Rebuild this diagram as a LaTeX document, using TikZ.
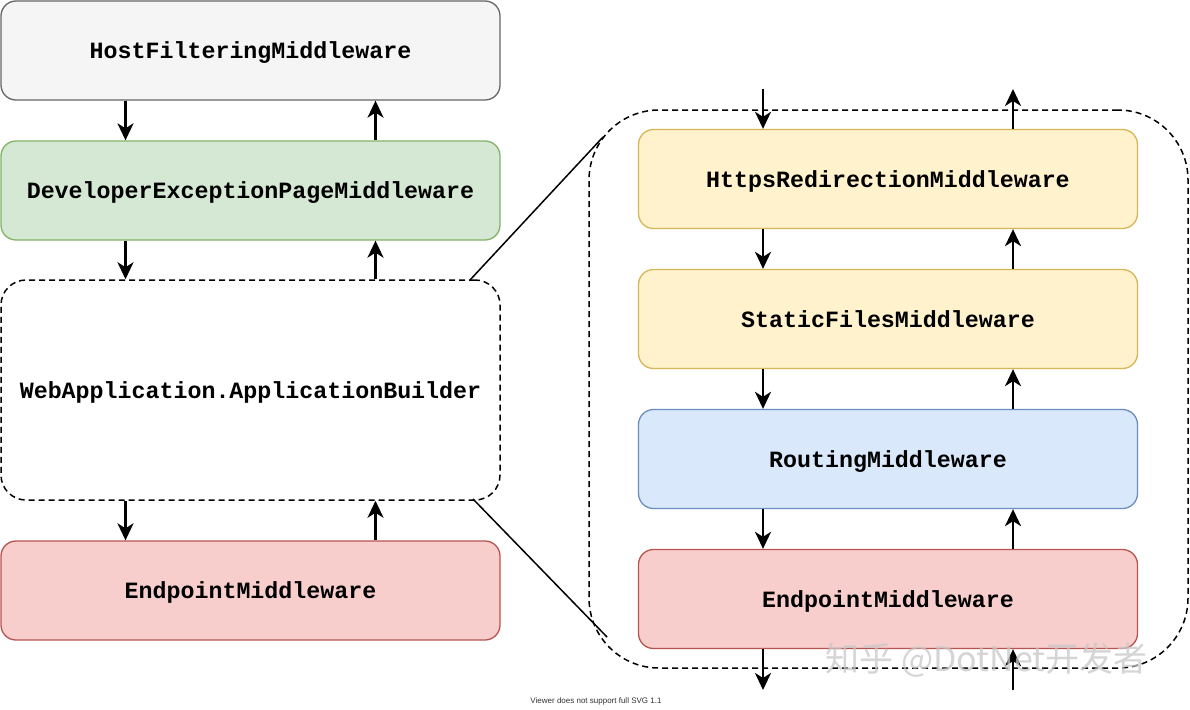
\documentclass[tikz,border=0pt]{standalone}
\usepackage{fontspec}
\usetikzlibrary{arrows.meta}
\newfontfamily\monob{Liberation Mono}
\newfontfamily\cjkwm{Noto Sans CJK SC}
\newfontfamily\smallsans{Liberation Sans}
\definecolor{hostfill}{HTML}{F5F5F5}
\definecolor{hoststroke}{HTML}{666666}
\definecolor{greenfill}{HTML}{D5E8D4}
\definecolor{greenstroke}{HTML}{82B366}
\definecolor{redfill}{HTML}{F8CECC}
\definecolor{redstroke}{HTML}{B85450}
\definecolor{yellowfill}{HTML}{FFF2CC}
\definecolor{yellowstroke}{HTML}{D6B656}
\definecolor{bluefill}{HTML}{DAE8FC}
\definecolor{bluestroke}{HTML}{6C8EBF}
\tikzset{
  mwtext/.style={text height=18pt, text depth=2pt, inner sep=0,
    font=\monob\bfseries\fontsize{23.3}{28}\selectfont},
  mw/.style={mwtext, draw, rounded corners=15, minimum width=499, minimum height=99,
    line width=1.3},
  dashbox/.style={draw, line width=1.5, dash pattern=on 6pt off 4pt},
  arr/.style={line width=2.4, -{Stealth[length=17pt, width=16pt, inset=5pt]}},
  link/.style={line width=1.5},
}
\begin{document}
\begin{tikzpicture}[x=1pt,y=-1pt]
\fill[white] (0,0) rectangle (1190,709);
\useasboundingbox (0,0) rectangle (1190,709);
% left column
\node[mw, fill=hostfill, draw=hoststroke] (host) at (250.5,50.5) {HostFilteringMiddleware};
\node[mw, fill=greenfill, draw=greenstroke] (dev) at (250.5,190.5) {DeveloperExceptionPageMiddleware};
\node[mwtext, dashbox, rounded corners=25, minimum width=499, minimum height=220] (web) at (250.5,390) {WebApplication.ApplicationBuilder};
\node[mw, fill=redfill, draw=redstroke] (endl) at (250.5,590.5) {EndpointMiddleware};
% left arrows
\draw[arr] ([xshift=-125]host.south) -- ([xshift=-125]dev.north);
\draw[arr] ([xshift=125]dev.north) -- ([xshift=125]host.south);
\draw[arr] ([xshift=-125]dev.south) -- ([xshift=-125]web.north);
\draw[arr] ([xshift=125]web.north) -- ([xshift=125]dev.south);
\draw[arr] ([xshift=-125]web.south) -- ([xshift=-125]endl.north);
\draw[arr] ([xshift=125]endl.north) -- ([xshift=125]web.south);
% right group
\node[dashbox, rounded corners=70, minimum width=599, minimum height=558, inner sep=0] (grp) at (888.5,389) {};
\node[mw, fill=yellowfill, draw=yellowstroke] (https) at (888,179) {HttpsRedirectionMiddleware};
\node[mw, fill=yellowfill, draw=yellowstroke] (static) at (888,319) {StaticFilesMiddleware};
\node[mw, fill=bluefill, draw=bluestroke] (routing) at (888,459) {RoutingMiddleware};
\node[mw, fill=redfill, draw=redstroke] (endr) at (888,599) {EndpointMiddleware};
\coordinate (inTop) at (763,89);
\coordinate (outTop) at (1013,89);
\coordinate (inBot) at (763,690);
\coordinate (outBot) at (1013,690);
\draw[arr] (inTop) -- ([xshift=-125]https.north);
\draw[arr] ([xshift=125]https.north) -- (outTop);
\draw[arr] ([xshift=-125]https.south) -- ([xshift=-125]static.north);
\draw[arr] ([xshift=125]static.north) -- ([xshift=125]https.south);
\draw[arr] ([xshift=-125]static.south) -- ([xshift=-125]routing.north);
\draw[arr] ([xshift=125]routing.north) -- ([xshift=125]static.south);
\draw[arr] ([xshift=-125]routing.south) -- ([xshift=-125]endr.north);
\draw[arr] ([xshift=125]endr.north) -- ([xshift=125]routing.south);
\draw[arr] ([xshift=-125]endr.south) -- (inBot);
\draw[arr] (outBot) -- ([xshift=125]endr.south);
% zoom lines
\coordinate (webTR) at (470,280);
\coordinate (webBR) at (473,499);
\coordinate (grpTL) at (603,137);
\coordinate (grpBL) at (607,637);
\draw[link] (webTR) -- (grpTL);
\draw[link] (webBR) -- (grpBL);
% footer text
\node[font=\smallsans\fontsize{8}{9}\selectfont, text=black!80] (viewer) at (596,701) {Viewer does not support full SVG 1.1};
% watermark
\node[font=\cjkwm\fontsize{34}{38}\selectfont, text=black!22, opacity=0.75, anchor=west] (wm) at (822,660) {知乎 @DotNet开发者};
\end{tikzpicture}
\end{document}
